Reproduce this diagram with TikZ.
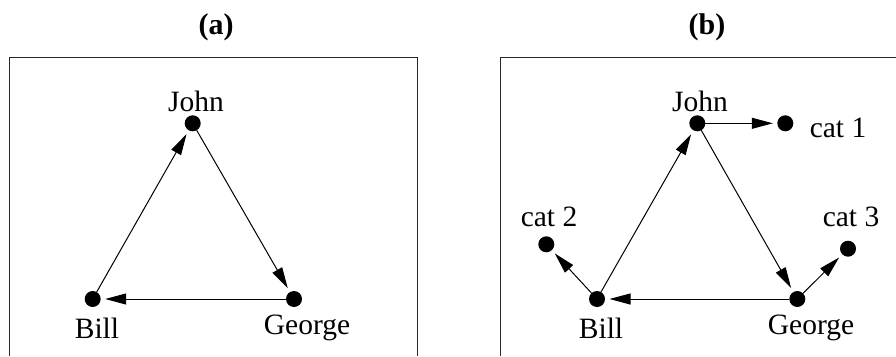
\documentclass[tikz,border=0pt]{standalone}
\usepackage{fontspec}
\setmainfont{Liberation Serif}
\usetikzlibrary{arrows.meta}
\begin{document}
\begin{tikzpicture}[x=1pt,y=-1pt,
  dot/.style={circle,fill=black,inner sep=0pt,minimum size=16pt,outer sep=0pt},
  lbl/.style={inner sep=0pt,font=\fontsize{29.5}{34}\selectfont},
  ttl/.style={inner sep=0pt,font=\fontsize{30}{34}\selectfont\bfseries},
  edge/.style={line width=1pt,-{Triangle[length=21pt,width=11pt]},shorten >=4.5pt},
  frame/.style={line width=1pt,draw=black!85}]
  \useasboundingbox (0,0) rectangle (896,356);

  % ---- panel (a) ----
  \node[ttl] (ta) at (216,27) {(a)};
  \draw[frame] (9.5,356) -- (9.5,57.7) -- (417,57.7) -- (417,356);
  \node[dot] (aJ) at (192.7,123.3) {};
  \node[dot] (aB) at (92.7,299) {};
  \node[dot] (aG) at (294,299) {};
  \node[lbl] (aJl) at (196,101.7) {John};
  \node[lbl] (aBl) at (97,328) {Bill};
  \node[lbl] (aGl) at (307,328) {George};
  \draw[edge] (aB) -- (aJ);
  \draw[edge] (aJ) -- (aG);
  \draw[edge] (aG) -- (aB);

  % ---- panel (b) ----
  \node[ttl] (tb) at (707,27) {(b)};
  \draw[frame] (500.3,356) -- (500.3,57.7) -- (896,57.7);
  \node[dot] (bJ) at (697.3,123.3) {};
  \node[dot] (bB) at (597,299) {};
  \node[dot] (bG) at (797.3,299) {};
  \node[dot] (c1) at (785.3,123.3) {};
  \node[dot] (c2) at (546.3,244.3) {};
  \node[dot] (c3) at (848,248.7) {};
  \node[lbl] (bJl) at (700,101.7) {John};
  \node[lbl] (bBl) at (601,328) {Bill};
  \node[lbl] (bGl) at (811,328) {George};
  \node[lbl] (c1l) at (838,127.7) {cat 1};
  \node[lbl] (c2l) at (549,216.7) {cat 2};
  \node[lbl] (c3l) at (851,216.7) {cat 3};
  \draw[edge] (bB) -- (bJ);
  \draw[edge] (bJ) -- (bG);
  \draw[edge] (bG) -- (bB);
  \draw[edge] (bJ) -- (c1);
  \draw[edge] (bB) -- (c2);
  \draw[edge] (bG) -- (c3);
\end{tikzpicture}
\end{document}
